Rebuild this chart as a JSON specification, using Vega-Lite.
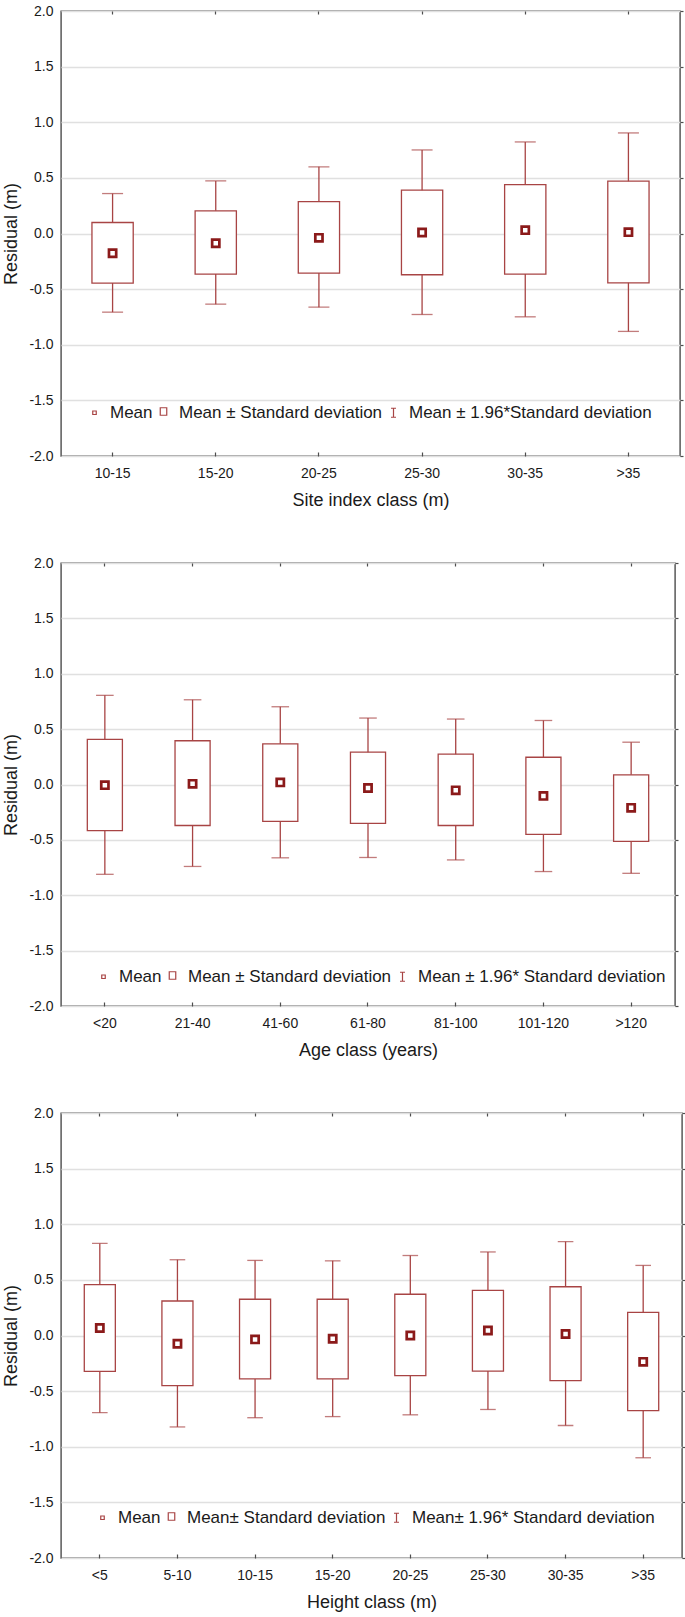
{
  "$schema": "https://vega.github.io/schema/vega-lite/v6.json",
  "padding": {"left": 2, "top": 3, "right": 0, "bottom": 0},
  "spacing": 45,
  "config": {
    "view": {"stroke": "#4d4d4d", "strokeWidth": 1.4},
    "axis": {"labelFont": "Liberation Sans", "labelFontSize": 14, "labelColor": "#1a1a1a", "titleFont": "Liberation Sans", "titleFontSize": 18, "titleFontWeight": "normal", "titleColor": "#1a1a1a", "gridColor": "#e0e0e0", "gridWidth": 1.5, "domain": false, "tickColor": "#4d4d4d", "tickWidth": 1.2},
    "legend": {"labelFont": "Liberation Sans", "labelFontSize": 17, "labelColor": "#1a1a1a", "labelLimit": 600, "padding": 0, "columnPadding": 2, "labelOffset": 7, "symbolSize": 100, "symbolStrokeWidth": 1.2, "symbolOpacity": 1}
  },
  "datasets": {
    "site": [
      {"cls": "10-15", "mean": -0.177, "lo": -0.446, "hi": 0.099, "lo96": -0.707, "hi96": 0.359},
      {"cls": "15-20", "mean": -0.087, "lo": -0.365, "hi": 0.204, "lo96": -0.635, "hi96": 0.473},
      {"cls": "20-25", "mean": -0.039, "lo": -0.356, "hi": 0.287, "lo96": -0.662, "hi96": 0.599},
      {"cls": "25-30", "mean": 0.009, "lo": -0.371, "hi": 0.389, "lo96": -0.728, "hi96": 0.751},
      {"cls": "30-35", "mean": 0.030, "lo": -0.365, "hi": 0.440, "lo96": -0.749, "hi96": 0.823},
      {"cls": ">35", "mean": 0.012, "lo": -0.443, "hi": 0.470, "lo96": -0.880, "hi96": 0.904}
    ],
    "age": [
      {"cls": "<20", "mean": -0.006, "lo": -0.416, "hi": 0.407, "lo96": -0.811, "hi96": 0.805},
      {"cls": "21-40", "mean": 0.006, "lo": -0.370, "hi": 0.395, "lo96": -0.740, "hi96": 0.765},
      {"cls": "41-60", "mean": 0.019, "lo": -0.333, "hi": 0.367, "lo96": -0.662, "hi96": 0.702},
      {"cls": "61-80", "mean": -0.031, "lo": -0.351, "hi": 0.292, "lo96": -0.659, "hi96": 0.600},
      {"cls": "81-100", "mean": -0.053, "lo": -0.370, "hi": 0.274, "lo96": -0.681, "hi96": 0.591},
      {"cls": "101-120", "mean": -0.103, "lo": -0.451, "hi": 0.246, "lo96": -0.786, "hi96": 0.578},
      {"cls": ">120", "mean": -0.211, "lo": -0.513, "hi": 0.087, "lo96": -0.802, "hi96": 0.382}
    ],
    "height": [
      {"cls": "<5", "mean": 0.067, "lo": -0.323, "hi": 0.457, "lo96": -0.694, "hi96": 0.828},
      {"cls": "5-10", "mean": -0.074, "lo": -0.450, "hi": 0.310, "lo96": -0.822, "hi96": 0.681},
      {"cls": "10-15", "mean": -0.035, "lo": -0.390, "hi": 0.326, "lo96": -0.739, "hi96": 0.675},
      {"cls": "15-20", "mean": -0.029, "lo": -0.390, "hi": 0.326, "lo96": -0.729, "hi96": 0.671},
      {"cls": "20-25", "mean": 0.000, "lo": -0.361, "hi": 0.371, "lo96": -0.713, "hi96": 0.719},
      {"cls": "25-30", "mean": 0.045, "lo": -0.320, "hi": 0.406, "lo96": -0.665, "hi96": 0.751},
      {"cls": "30-35", "mean": 0.013, "lo": -0.406, "hi": 0.438, "lo96": -0.809, "hi96": 0.844},
      {"cls": ">35", "mean": -0.237, "lo": -0.675, "hi": 0.208, "lo96": -1.099, "hi96": 0.630}
    ],
    "legSite": [{"leg": "Mean"}, {"leg": "Mean ± Standard deviation"}, {"leg": "Mean ± 1.96*Standard deviation"}],
    "legAge": [{"leg": "Mean"}, {"leg": "Mean ± Standard deviation"}, {"leg": "Mean ± 1.96* Standard deviation"}],
    "legHeight": [{"leg": "Mean"}, {"leg": "Mean± Standard deviation"}, {"leg": "Mean± 1.96* Standard deviation"}]
  },
  "resolve": {"scale": {"x": "independent", "y": "independent", "shape": "independent"}, "legend": {"shape": "independent"}},
  "vconcat": [
    {
      "width": 619, "height": 445,
      "data": {"name": "site"},
      "resolve": {"axis": {"x": "independent", "y": "independent"}},
      "layer": [
        {"mark": {"type": "rule", "color": "#A84444", "strokeWidth": 1.3},
         "encoding": {
           "x": {"field": "cls", "type": "nominal", "sort": null, "scale": {"paddingInner": 0, "paddingOuter": 0}, "axis": {"orient": "bottom", "title": "Site index class (m)", "labelAngle": 0, "tickSize": -4, "labelPadding": 14, "titlePadding": 11, "grid": false}},
           "y": {"field": "lo96", "type": "quantitative", "scale": {"domain": [-2, 2], "nice": false, "zero": false}, "axis": {"orient": "left", "title": "Residual (m)", "values": [-2, -1.5, -1, -0.5, 0, 0.5, 1, 1.5, 2], "labelExpr": "replace(format(datum.value, '.1f'), '−', '-')", "ticks": false, "grid": true, "labelPadding": 8, "titlePadding": 8}},
           "y2": {"field": "hi96"}}},
        {"mark": {"type": "tick", "color": "#A84444", "thickness": 1.3, "size": 21},
         "encoding": {
           "x": {"field": "cls", "type": "nominal", "sort": null, "axis": {"orient": "top", "labels": false, "title": null, "tickSize": -3, "grid": false}},
           "y": {"field": "hi96", "type": "quantitative", "axis": {"orient": "right", "labels": false, "title": null, "tickSize": 3, "grid": false, "values": [-2, -1.5, -1, -0.5, 0, 0.5, 1, 1.5, 2]}}}},
        {"mark": {"type": "tick", "color": "#A84444", "thickness": 1.3, "size": 21},
         "encoding": {
           "x": {"field": "cls", "type": "nominal", "sort": null, "axis": null},
           "y": {"field": "lo96", "type": "quantitative", "axis": null}}},
        {"mark": {"type": "bar", "fill": "white", "stroke": "#A84444", "strokeWidth": 1.3, "width": {"band": 0.4}},
         "encoding": {
           "x": {"field": "cls", "type": "nominal", "sort": null, "axis": null},
           "y": {"field": "lo", "type": "quantitative", "axis": null},
           "y2": {"field": "hi"}}},
        {"mark": {"type": "point", "shape": "square", "filled": false, "color": "#8B1A1A", "size": 52, "strokeWidth": 2.7, "opacity": 1},
         "encoding": {
           "x": {"field": "cls", "type": "nominal", "sort": null, "axis": null},
           "y": {"field": "mean", "type": "quantitative", "axis": null}}},
        {"data": {"name": "legSite"},
         "mark": {"type": "point", "filled": false, "color": "#A84444", "opacity": 0, "size": 100},
         "encoding": {
           "shape": {"field": "leg", "type": "nominal",
             "scale": {"domain": ["Mean", "Mean ± Standard deviation", "Mean ± 1.96*Standard deviation"], "range": ["M-0.35,-0.35H0.35V0.35H-0.35Z", "M-0.65,-1H0.65V0.5H-0.65Z", "M-0.5,-0.9H0.5M0,-0.9V0.9M-0.5,0.9H0.5"]},
             "legend": {"orient": "none", "legendX": 25, "legendY": 393, "direction": "horizontal", "title": null}}}}
      ]
    },
    {
      "width": 614, "height": 443,
      "data": {"name": "age"},
      "resolve": {"axis": {"x": "independent", "y": "independent"}},
      "layer": [
        {"mark": {"type": "rule", "color": "#A84444", "strokeWidth": 1.3},
         "encoding": {
           "x": {"field": "cls", "type": "nominal", "sort": null, "scale": {"paddingInner": 0, "paddingOuter": 0}, "axis": {"orient": "bottom", "title": "Age class (years)", "labelAngle": 0, "tickSize": -4, "labelPadding": 14, "titlePadding": 11, "grid": false}},
           "y": {"field": "lo96", "type": "quantitative", "scale": {"domain": [-2, 2], "nice": false, "zero": false}, "axis": {"orient": "left", "title": "Residual (m)", "values": [-2, -1.5, -1, -0.5, 0, 0.5, 1, 1.5, 2], "labelExpr": "replace(format(datum.value, '.1f'), '−', '-')", "ticks": false, "grid": true, "labelPadding": 8, "titlePadding": 8}},
           "y2": {"field": "hi96"}}},
        {"mark": {"type": "tick", "color": "#A84444", "thickness": 1.3, "size": 17.6},
         "encoding": {
           "x": {"field": "cls", "type": "nominal", "sort": null, "axis": {"orient": "top", "labels": false, "title": null, "tickSize": -3, "grid": false}},
           "y": {"field": "hi96", "type": "quantitative", "axis": {"orient": "right", "labels": false, "title": null, "tickSize": 3, "grid": false, "values": [-2, -1.5, -1, -0.5, 0, 0.5, 1, 1.5, 2]}}}},
        {"mark": {"type": "tick", "color": "#A84444", "thickness": 1.3, "size": 17.6},
         "encoding": {
           "x": {"field": "cls", "type": "nominal", "sort": null, "axis": null},
           "y": {"field": "lo96", "type": "quantitative", "axis": null}}},
        {"mark": {"type": "bar", "fill": "white", "stroke": "#A84444", "strokeWidth": 1.3, "width": {"band": 0.4}},
         "encoding": {
           "x": {"field": "cls", "type": "nominal", "sort": null, "axis": null},
           "y": {"field": "lo", "type": "quantitative", "axis": null},
           "y2": {"field": "hi"}}},
        {"mark": {"type": "point", "shape": "square", "filled": false, "color": "#8B1A1A", "size": 52, "strokeWidth": 2.7, "opacity": 1},
         "encoding": {
           "x": {"field": "cls", "type": "nominal", "sort": null, "axis": null},
           "y": {"field": "mean", "type": "quantitative", "axis": null}}},
        {"data": {"name": "legAge"},
         "mark": {"type": "point", "filled": false, "color": "#A84444", "opacity": 0, "size": 100},
         "encoding": {
           "shape": {"field": "leg", "type": "nominal",
             "scale": {"domain": ["Mean", "Mean ± Standard deviation", "Mean ± 1.96* Standard deviation"], "range": ["M-0.35,-0.35H0.35V0.35H-0.35Z", "M-0.65,-1H0.65V0.5H-0.65Z", "M-0.5,-0.9H0.5M0,-0.9V0.9M-0.5,0.9H0.5"]},
             "legend": {"orient": "none", "legendX": 34, "legendY": 405, "direction": "horizontal", "title": null}}}}
      ]
    },
    {
      "width": 621, "height": 445,
      "data": {"name": "height"},
      "resolve": {"axis": {"x": "independent", "y": "independent"}},
      "layer": [
        {"mark": {"type": "rule", "color": "#A84444", "strokeWidth": 1.3},
         "encoding": {
           "x": {"field": "cls", "type": "nominal", "sort": null, "scale": {"paddingInner": 0, "paddingOuter": 0}, "axis": {"orient": "bottom", "title": "Height class (m)", "labelAngle": 0, "tickSize": -4, "labelPadding": 14, "titlePadding": 11, "grid": false}},
           "y": {"field": "lo96", "type": "quantitative", "scale": {"domain": [-2, 2], "nice": false, "zero": false}, "axis": {"orient": "left", "title": "Residual (m)", "values": [-2, -1.5, -1, -0.5, 0, 0.5, 1, 1.5, 2], "labelExpr": "replace(format(datum.value, '.1f'), '−', '-')", "ticks": false, "grid": true, "labelPadding": 8, "titlePadding": 8}},
           "y2": {"field": "hi96"}}},
        {"mark": {"type": "tick", "color": "#A84444", "thickness": 1.3, "size": 15.6},
         "encoding": {
           "x": {"field": "cls", "type": "nominal", "sort": null, "axis": {"orient": "top", "labels": false, "title": null, "tickSize": -3, "grid": false}},
           "y": {"field": "hi96", "type": "quantitative", "axis": {"orient": "right", "labels": false, "title": null, "tickSize": 3, "grid": false, "values": [-2, -1.5, -1, -0.5, 0, 0.5, 1, 1.5, 2]}}}},
        {"mark": {"type": "tick", "color": "#A84444", "thickness": 1.3, "size": 15.6},
         "encoding": {
           "x": {"field": "cls", "type": "nominal", "sort": null, "axis": null},
           "y": {"field": "lo96", "type": "quantitative", "axis": null}}},
        {"mark": {"type": "bar", "fill": "white", "stroke": "#A84444", "strokeWidth": 1.3, "width": {"band": 0.4}},
         "encoding": {
           "x": {"field": "cls", "type": "nominal", "sort": null, "axis": null},
           "y": {"field": "lo", "type": "quantitative", "axis": null},
           "y2": {"field": "hi"}}},
        {"mark": {"type": "point", "shape": "square", "filled": false, "color": "#8B1A1A", "size": 52, "strokeWidth": 2.7, "opacity": 1},
         "encoding": {
           "x": {"field": "cls", "type": "nominal", "sort": null, "axis": null},
           "y": {"field": "mean", "type": "quantitative", "axis": null}}},
        {"data": {"name": "legHeight"},
         "mark": {"type": "point", "filled": false, "color": "#A84444", "opacity": 0, "size": 100},
         "encoding": {
           "shape": {"field": "leg", "type": "nominal",
             "scale": {"domain": ["Mean", "Mean± Standard deviation", "Mean± 1.96* Standard deviation"], "range": ["M-0.35,-0.35H0.35V0.35H-0.35Z", "M-0.65,-1H0.65V0.5H-0.65Z", "M-0.5,-0.9H0.5M0,-0.9V0.9M-0.5,0.9H0.5"]},
             "legend": {"orient": "none", "legendX": 33, "legendY": 396, "direction": "horizontal", "title": null}}}}
      ]
    }
  ]
}
